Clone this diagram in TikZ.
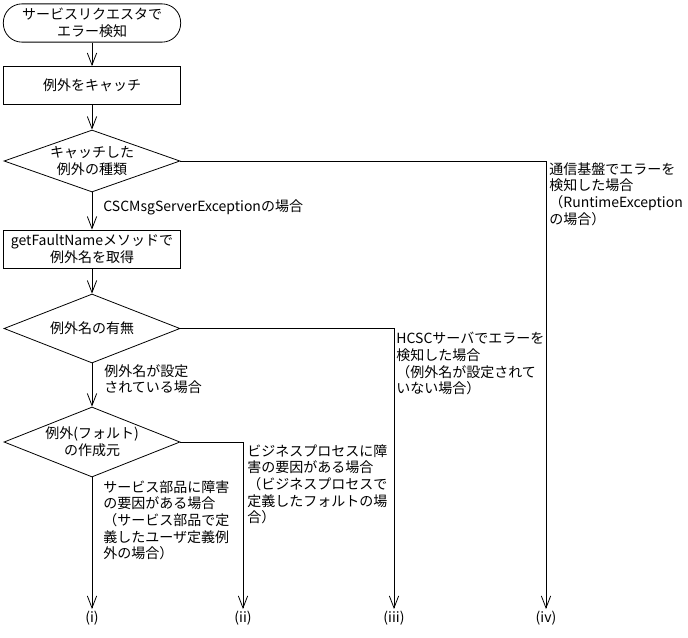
\documentclass[tikz,border=0pt]{standalone}
\usepackage{fontspec}
\setmainfont{Noto Sans CJK JP}
\usetikzlibrary{shapes.geometric,arrows.meta}
\begin{document}
\begin{tikzpicture}[x=0.75pt,y=-0.75pt,line width=0.6pt,
        font=\fontsize{10.5pt}{12.5pt}\selectfont,
        flow/.style={-{Straight Barb[length=9pt,width=7pt]}},
        terminal/.style={draw,rectangle,rounded corners=14pt,minimum width=133pt,minimum height=28.5pt,align=center},
        process/.style={draw,rectangle,minimum width=133pt,minimum height=28.5pt,align=center},
        decision/.style={draw,diamond,inner sep=0pt,align=center,minimum width=132pt,minimum height=#1},
        note/.style={anchor=north west,inner sep=0pt,align=left},
        exit/.style={anchor=north,inner sep=1pt}]
        \useasboundingbox (0,0) rectangle (688,637);
        %% Main flow
        \node[terminal] (start) at (92,23) {サービスリクエスタで\\エラー検知};
        \node[process] (catch) at (92,85.5) {例外をキャッチ};
        \node[decision=46.5pt,aspect=2.84] (kind) at (92,161) {キャッチした\\例外の種類};
        \node[process] (getname) at (92,249) {getFaultNameメソッドで\\例外名を取得};
        \node[decision=51.75pt,aspect=2.55] (hasname) at (92,328.5) {例外名の有無};
        \node[decision=52.5pt,aspect=2.51] (origin) at (92,442) {例外(フォルト)\\の作成元};
        %% Exits
        \node[exit] (exi) at (92,609) {(i)};
        \node[exit] (exii) at (243,609) {(ii)};
        \node[exit] (exiii) at (394,609) {(iii)};
        \node[exit] (exiv) at (546,609) {(iv)};
        %% Connectors
        \draw[flow] (start) -- (catch);
        \draw[flow] (catch) -- (kind);
        \draw[flow] (kind) -- (getname);
        \draw[flow] (getname) -- (hasname);
        \draw[flow] (hasname) -- (origin);
        \draw[flow] (origin) -- (exi.north);
        \draw[flow] (origin.east) -| (exii.north);
        \draw[flow] (hasname.east) -| (exiii.north);
        \draw[flow] (kind.east) -| (exiv.north);
        %% Branch labels
        \node[note] (lbcsc) at (103,199) {CSCMsgServerExceptionの場合};
        \node[note] (lbset) at (104,364) {例外名が設定\\されている場合};
        \node[note] (lbpart) at (103,480) {サービス部品に障害\\の要因がある場合\\（サービス部品で定\\義したユーザ定義例\\外の場合）};
        \node[note] (lbproc) at (247,444) {ビジネスプロセスに障\\害の要因がある場合\\（ビジネスプロセスで\\定義したフォルトの場\\合）};
        \node[note] (lbhcsc) at (396,332) {HCSCサーバでエラーを\\検知した場合\\（例外名が設定されて\\いない場合）};
        \node[note] (lbcomm) at (549,162) {通信基盤でエラーを\\検知した場合\\（RuntimeException\\の場合）};
    \end{tikzpicture}
\end{document}
